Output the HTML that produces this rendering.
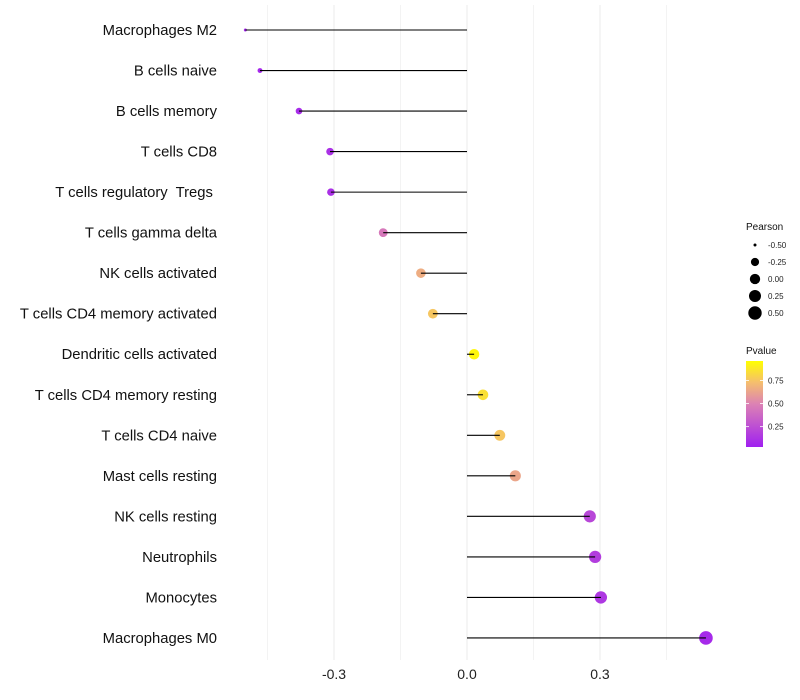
<!DOCTYPE html>
<html><head><meta charset="utf-8"><style>
body{margin:0;background:#fff;}
svg{display:block;font-family:"Liberation Sans",sans-serif;}
text{white-space:pre;}
</style></head><body>
<svg id="c" width="800" height="700"></svg>
<script>
const categories=["Macrophages M2","B cells naive","B cells memory","T cells CD8","T cells regulatory  Tregs ","T cells gamma delta","NK cells activated","T cells CD4 memory activated","Dendritic cells activated","T cells CD4 memory resting","T cells CD4 naive","Mast cells resting","NK cells resting","Neutrophils","Monocytes","Macrophages M0"];
const pearson=[-0.50,-0.467,-0.379,-0.309,-0.307,-0.189,-0.104,-0.077,0.016,0.036,0.074,0.109,0.277,0.289,0.302,0.539];
const pvalues=[0.03,0.04,0.06,0.08,0.08,0.45,0.68,0.78,0.97,0.88,0.78,0.65,0.2,0.15,0.12,0.05];
const xTicks=[-0.3,0.0,0.3];
const xTickLabels=["-0.3","0.0","0.3"];
const sizeLegend=[-0.50,-0.25,0.00,0.25,0.50];
const sizeLegendLabels=["-0.50","-0.25","0.00","0.25","0.50"];
const colorTicks=[0.25,0.50,0.75];

const NS="http://www.w3.org/2000/svg";
const svg=document.getElementById('c');
function mk(t,a,p){const e=document.createElementNS(NS,t);for(const k in a)e.setAttribute(k,a[k]);(p||svg).appendChild(e);return e;}
const x=v=>467+v*443.3;
const y=i=>30+i*40.53;
const r=v=>1.5+5.2*Math.sqrt(Math.max(0,v+0.5));
const stops=[[0,[160,32,240]],[0.5,[220,130,180]],[0.75,[245,190,110]],[1,[255,255,0]]];
function col(p){for(let i=1;i<stops.length;i++){if(p<=stops[i][0]){const a=stops[i-1],b=stops[i];const t=(p-a[0])/(b[0]-a[0]);const c=a[1].map((v,k)=>Math.round(v+(b[1][k]-v)*t));return `rgb(${c})`;}}return 'rgb(255,255,0)';}

for(let k=-3;k<=3;k++){
  const v=k*0.15;
  const g=mk('line',{x1:x(v),x2:x(v),y1:5,y2:660,stroke:'#ebebeb','stroke-width':Math.abs(k)%2==1?0.6:1});
  
  
}
xTicks.forEach((v,i)=>{
  const t=mk('text',{x:x(v),y:679,'text-anchor':'middle','font-size':14,fill:'#222'});t.textContent=xTickLabels[i];
  
  
});
categories.forEach((c,i)=>{
  const t=mk('text',{x:217,y:y(i)+5,'text-anchor':'end','font-size':14.8,fill:'#111'});t.textContent=c;
  
  
  const d=mk('circle',{cx:x(pearson[i]),cy:y(i),r:r(pearson[i]),fill:col(pvalues[i])});
  
  
  const l=mk('line',{x1:x(0),x2:x(pearson[i]),y1:y(i),y2:y(i),stroke:'#000','stroke-width':1.1});
  
  
});
const lt=mk('text',{x:746,y:230,'font-size':10,fill:'#111'});lt.textContent='Pearson';


sizeLegend.forEach((v,i)=>{
  const cy=245+i*17;
  const c=mk('circle',{cx:755,cy:cy,r:r(v),fill:'#000'});
  
  
  const t=mk('text',{x:768,y:cy+3,'font-size':8,fill:'#222'});t.textContent=sizeLegendLabels[i];
  
  
});
const pt=mk('text',{x:746,y:354,'font-size':10,fill:'#111'});pt.textContent='Pvalue';


const defs=mk('defs',{});
const gr=mk('linearGradient',{id:'pg',x1:0,y1:1,x2:0,y2:0},defs);
stops.forEach(s=>mk('stop',{offset:s[0],'stop-color':`rgb(${s[1]})`},gr));
const cb=mk('rect',{x:746,y:361,width:17,height:86,fill:'url(#pg)'});


const cy=v=>447-(v-0.03)/(0.96-0.03)*86;
colorTicks.forEach(v=>{
  const tk=mk('line',{x1:746,x2:749,y1:cy(v),y2:cy(v),stroke:'#fff','stroke-width':0.8});
  
  
  const tk2=mk('line',{x1:760,x2:763,y1:cy(v),y2:cy(v),stroke:'#fff','stroke-width':0.8});
  
  
  const t=mk('text',{x:768,y:cy(v)+3,'font-size':8,fill:'#222'});t.textContent=v.toFixed(2);
  
  
});
</script>
</body></html>
